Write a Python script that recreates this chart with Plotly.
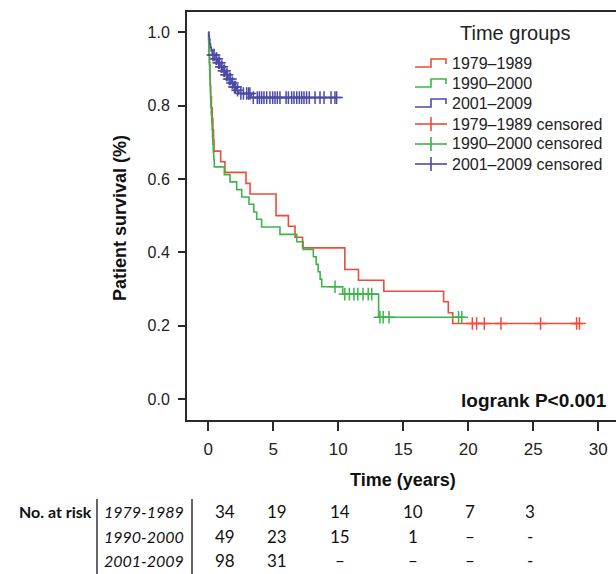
import numpy as np
import plotly.graph_objects as go

# ---------------- data ----------------
group_names = ["1979–1989", "1990–2000", "2001–2009"]
group_colors = ["#EE4B3B", "#3DB54A", "#4B4BA5"]

# 1979-1989 : event times and survival level after each step
red_t = [0.03, 0.06, 0.09, 0.12, 0.15, 0.18, 0.24, 0.30, 0.35, 0.40, 0.44, 0.95, 1.28,
         2.90, 3.21, 5.21, 6.16, 6.67, 7.25, 10.50, 11.55, 13.50, 18.10, 18.46, 18.80]
red_s = [0.971, 0.941, 0.912, 0.882, 0.853, 0.824, 0.794, 0.765, 0.735, 0.706, 0.676, 0.647, 0.618,
         0.588, 0.559, 0.500, 0.471, 0.441, 0.412, 0.353, 0.324, 0.294, 0.265, 0.235, 0.206]
red_end = 28.55
red_cens = [20.31, 20.64, 21.23, 22.51, 25.56, 28.33, 28.55]

# 1990-2000
green_t = [0.02, 0.04, 0.06, 0.08, 0.10, 0.12, 0.14, 0.16, 0.18, 0.20, 0.23, 0.26, 0.29, 0.32,
           0.35, 0.38, 0.42, 0.46, 1.23, 1.67, 2.18, 2.57, 3.13, 3.50, 3.72, 4.10, 5.51, 6.80,
           7.30, 8.08, 8.30, 8.45, 8.60, 8.72, 10.34, 13.10]
green_s = [0.980, 0.959, 0.939, 0.918, 0.898, 0.878, 0.857, 0.837, 0.816, 0.796, 0.776, 0.755,
           0.735, 0.714, 0.694, 0.673, 0.653, 0.633, 0.612, 0.592, 0.571, 0.551, 0.531, 0.510,
           0.490, 0.469, 0.449, 0.429, 0.408, 0.388, 0.367, 0.347, 0.327, 0.306, 0.286, 0.223]
green_end = 19.5
green_cens = [9.75, 10.50, 10.85, 11.20, 11.50, 11.90, 12.30, 12.57, 13.20, 13.45, 13.90, 19.25, 19.50]

# 2001-2009
blue_t = [0.04, 0.08, 0.12, 0.17, 0.22, 0.30, 0.50, 0.70, 0.90, 1.10, 1.30, 1.50, 1.75, 1.95,
          2.15, 2.35, 3.30]
blue_s = [0.990, 0.980, 0.969, 0.959, 0.949, 0.938, 0.928, 0.917, 0.906, 0.895, 0.884, 0.873,
          0.862, 0.851, 0.842, 0.833, 0.822]
blue_end = 9.87
blue_cens = [0.35, 0.45, 0.60, 0.65, 0.80, 0.85, 1.00, 1.05, 1.20, 1.25, 1.40, 1.45, 1.60, 1.70,
             1.85, 2.00, 2.10, 2.25, 2.50, 2.70, 2.95, 3.10, 3.20, 3.46, 3.77, 3.93, 4.10, 4.28,
             4.49, 4.74, 4.95, 5.13, 5.31, 5.51, 5.98, 6.16, 6.41, 6.59, 6.80, 7.00, 7.18, 7.36,
             7.56, 7.77, 8.21, 8.59, 8.90, 9.44, 9.74, 9.87]

x_ticks = [0, 5, 10, 15, 20, 25, 30]
y_ticks = [0.0, 0.2, 0.4, 0.6, 0.8, 1.0]
y_ticktext = ["0.0", "0.2", "0.4", "0.6", "0.8", "1.0"]

risk_groups = ["1979-1989", "1990-2000", "2001-2009"]
risk_rows = [
    ["34", "19", "14", "10", "7", "3"],
    ["49", "23", "15", "1", "–", "-"],
    ["98", "31", "–", "–", "–", "-"],
]

# ---------------- figure ----------------
W, H = 616, 574
ML, MR, MT, MB = 187, 0, 12, 154
PW, PH = W - ML - MR, H - MT - MB


def px(x):
    return (x - ML) / PW


def py(y):
    return (H - MB - y) / PH


def level_at(ts, ss, t):
    i = int(np.searchsorted(ts, t, side="right"))
    return 1.0 if i == 0 else ss[i - 1]


fig = go.Figure()
series = [
    (red_t, red_s, red_end, red_cens),
    (green_t, green_s, green_end, green_cens),
    (blue_t, blue_s, blue_end, blue_cens),
]

for (ts, ss, end, cens), col in zip(series, group_colors):
    xs = [0.0] + list(ts) + [end]
    ys = [1.0] + list(ss) + [ss[-1]]
    fig.add_trace(go.Scatter(x=xs, y=ys, mode="lines", line=dict(color=col, width=1.6, shape="hv"),
                             showlegend=False, hoverinfo="skip"))
    cy = [level_at(ts, ss, c) for c in cens]
    fig.add_trace(go.Scatter(x=cens, y=cy, mode="markers",
                             marker=dict(symbol="cross-thin", size=9, color=col,
                                         line=dict(color=col, width=1.5)),
                             showlegend=False, hoverinfo="skip"))

axis_col = "#2a2a2a"
font_main = "Liberation Sans, Arial, sans-serif"
font_tab = "Lato, Liberation Sans, sans-serif"

fig.update_xaxes(range=[-1.64, -1.64 + PW / 13.0], tickvals=x_ticks, ticks="outside", ticklen=9,
                 tickwidth=2, tickcolor=axis_col, showline=True, linewidth=2, linecolor=axis_col,
                 mirror=True, showgrid=False, zeroline=False,
                 tickfont=dict(family=font_main, size=17, color="#222"), ticklabelstandoff=4)
fig.update_yaxes(range=[-0.0573, 1.0554], tickvals=y_ticks, ticktext=y_ticktext, ticks="outside",
                 ticklen=7, tickwidth=2, tickcolor=axis_col, showline=True, linewidth=2,
                 linecolor=axis_col, showgrid=False, zeroline=False,
                 tickfont=dict(family=font_main, size=16, color="#222"), ticklabelstandoff=5)


def note(text, x, y, size, family=font_main, xanchor="center", angle=0, color="#111"):
    return dict(text=text, x=px(x), y=py(y), xref="paper", yref="paper", xanchor=xanchor,
                yanchor="middle", textangle=angle, showarrow=False,
                font=dict(family=family, size=size, color=color))


ann = []
shapes = []
ann.append(note("<b>Patient survival (%)</b>", 120, 218, 18, angle=-90))
ann.append(note("<b>Time (years)</b>", 403, 480, 18))
ann.append(note("<b>logrank P&lt;0.001</b>", 609, 400, 19, xanchor="right"))

# custom legend (step-shaped keys like the original)
leg_title_xy = (515, 33)
leg_rows = [63, 83, 103, 124, 144, 164]
leg_key_x0, leg_key_x1, leg_text_x = 415, 447, 450
ann.append(note("Time groups", leg_title_xy[0], leg_title_xy[1], 20, color="#222"))
labels = [g for g in group_names] + [g + " censored" for g in group_names]
cols6 = group_colors + group_colors
for i, (lab, col, ry) in enumerate(zip(labels, cols6, leg_rows)):
    ann.append(note(lab, leg_text_x, ry, 16, xanchor="left", color="#222"))
    if i < 3:
        xa, xm, xb = px(leg_key_x0), px(431), px(leg_key_x1 - 1)
        ylo, yhi = py(ry + 4), py(ry - 4)
        path = f"M {xa},{ylo} L {xm},{ylo} L {xm},{yhi} L {xb},{yhi} L {xb},{py(ry + 1)}"
        shapes.append(dict(type="path", xref="paper", yref="paper", path=path,
                           line=dict(color=col, width=1.6)))
    else:
        shapes.append(dict(type="line", xref="paper", yref="paper", x0=px(leg_key_x0),
                           x1=px(leg_key_x1), y0=py(ry), y1=py(ry), line=dict(color=col, width=1.6)))
        shapes.append(dict(type="line", xref="paper", yref="paper", x0=px(431), x1=px(431),
                           y0=py(ry - 7), y1=py(ry + 7), line=dict(color=col, width=1.6)))

# number-at-risk table
row_y = [511, 536, 560]
col_x = [225, 277, 340, 413, 470, 530]
ann.append(note("<b>No. at risk</b>", 94, row_y[0], 16, family=font_tab, xanchor="right"))
for ry, g, row in zip(row_y, risk_groups, risk_rows):
    ann.append(note("<i>" + g + "</i>", 186, ry, 16, family=font_tab, xanchor="right"))
    for cx, v in zip(col_x, row):
        ann.append(note(v, cx, ry, 17, family=font_tab))

for lx in [97, 192]:
    shapes.append(dict(type="line", xref="paper", yref="paper", x0=px(lx), x1=px(lx),
                       y0=py(499), y1=py(574), line=dict(color="#333", width=1.5)))

fig.update_layout(
    width=W, height=H,
    margin=dict(l=ML, r=MR, t=MT, b=MB),
    paper_bgcolor="white", plot_bgcolor="white",
    annotations=ann, shapes=shapes,
    showlegend=False,
)

fig.write_html("out.html")
